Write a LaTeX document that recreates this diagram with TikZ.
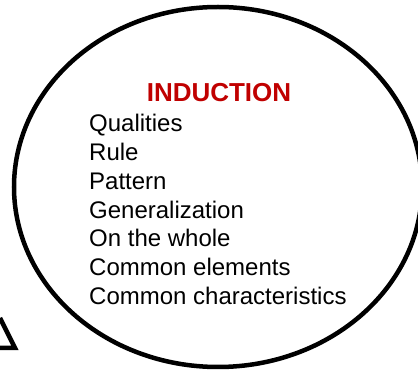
\documentclass[tikz,border=0pt]{standalone}
\usepackage{fontspec}
\setmainfont{Liberation Sans}
\definecolor{inductred}{RGB}{192,0,0}
\tikzset{
  bubble/.style={draw=black, line width=4.5pt},
  headline/.style={anchor=base, inner sep=0pt, text=inductred,
    font=\fontsize{26}{30}\selectfont\bfseries},
  item/.style={anchor=base west, inner sep=0pt,
    font=\fontsize{24}{28}\selectfont}
}

\begin{document}
\begin{tikzpicture}[x=1pt,y=-1pt]
\useasboundingbox (0,0) rectangle (418,371);

%% bubble
\coordinate(Mid) at(218, 187);
\draw[bubble] (Mid) ellipse [x radius=204, y radius=180];

%% tail of the other callout
\coordinate(Tail1) at(0, 318);
\coordinate(Tail2) at(15, 348);
\coordinate(Tail3) at(0, 348);
\draw[bubble, line join=miter] (Tail1) -- (Tail2) -- (Tail3);

%% texts
\node[headline](Head) at(219, 101.7) {INDUCTION};

\coordinate(List) at(89, 132);
\node[item](Item1) at(List) {Qualities};
\node[item](Item2) at([yshift=-28.7pt]Item1.base west) {Rule};
\node[item](Item3) at([yshift=-28.7pt]Item2.base west) {Pattern};
\node[item](Item4) at([yshift=-28.7pt]Item3.base west) {Generalization};
\node[item](Item5) at([yshift=-28.7pt]Item4.base west) {On the whole};
\node[item](Item6) at([yshift=-28.7pt]Item5.base west) {Common elements};
\node[item](Item7) at([yshift=-28.7pt]Item6.base west) {Common characteristics};

\end{tikzpicture}
\end{document}
